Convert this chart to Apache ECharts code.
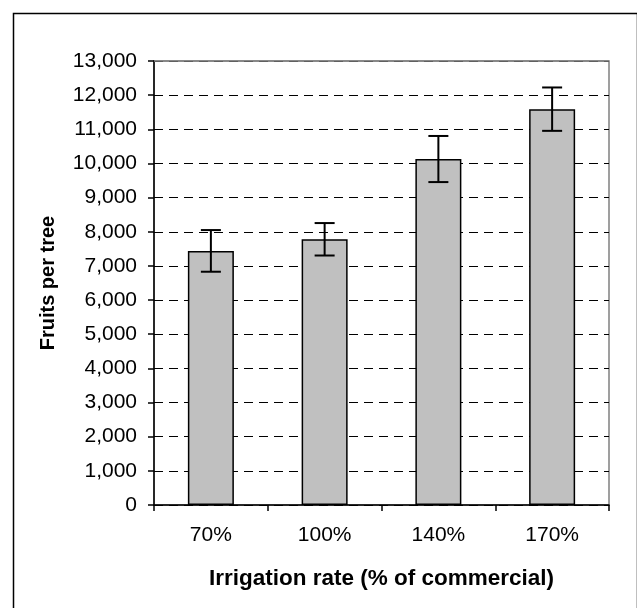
<!DOCTYPE html>
<html>
<head>
<meta charset="utf-8">
<script src="https://cdn.jsdelivr.net/npm/echarts@6/dist/echarts.min.js"></script>
<style>
html,body{margin:0;padding:0;background:#fff;}
#chart{width:637px;height:608px;}
</style>
</head>
<body>
<div id="chart"></div>
<script>
const categories = ['70%', '100%', '140%', '170%'];
const fruitsPerTree = [7440, 7780, 10130, 11590];
const errorValues = [610, 475, 675, 635];
const yTickMin = 0;
const yTickMax = 13000;
const yTickStep = 1000;

const FONT = 'Liberation Sans, Arial, sans-serif';
const chart = echarts.init(document.getElementById('chart'));

const errorData = categories.map((c, i) => [i, fruitsPerTree[i] - errorValues[i], fruitsPerTree[i] + errorValues[i]]);

chart.setOption({
  animation: false,
  backgroundColor: '#ffffff',
  grid: {
    left: 154, right: 28, top: 61, bottom: 103,
    show: true, borderColor: '#808080', borderWidth: 1.5, backgroundColor: 'transparent'
  },
  graphic: [{
    type: 'rect', left: 11, top: 11,
    shape: { width: 624, height: 620 },
    style: { fill: 'none', stroke: '#000', lineWidth: 1.5 },
    silent: true
  }],
  xAxis: {
    type: 'category',
    data: categories,
    name: 'Irrigation rate (% of commercial)',
    nameLocation: 'middle',
    nameGap: 62,
    nameTextStyle: { fontFamily: FONT, fontSize: 22.5, fontWeight: 'bold', color: '#000' },
    axisLine: { lineStyle: { color: '#000', width: 1.5 } },
    axisTick: { show: true, length: 6, inside: false, alignWithLabel: false, lineStyle: { color: '#000', width: 1.5 } },
    axisLabel: { fontFamily: FONT, fontSize: 21, color: '#000', margin: 20 },
    splitLine: { show: false }
  },
  yAxis: {
    type: 'value',
    min: yTickMin, max: yTickMax, interval: yTickStep,
    name: 'Fruits per tree',
    nameLocation: 'middle',
    nameGap: 96,
    nameRotate: 90,
    nameTextStyle: { fontFamily: FONT, fontSize: 20, fontWeight: 'bold', color: '#000' },
    axisLine: { show: true, lineStyle: { color: '#000', width: 1.5 } },
    axisTick: { show: true, length: 6, lineStyle: { color: '#000', width: 1.5 } },
    axisLabel: {
      fontFamily: FONT, fontSize: 21, color: '#000', margin: 17,
      formatter: v => v.toLocaleString('en-US')
    },
    splitLine: { show: true, lineStyle: { color: '#000', width: 1, type: [9, 6] } }
  },
  series: [{
    type: 'bar',
    data: fruitsPerTree,
    barWidth: 46,
    itemStyle: { color: '#C0C0C0', borderColor: '#000', borderWidth: 1.5 },
    markLine: {
      silent: true, symbol: 'none', label: { show: false },
      lineStyle: { color: '#808080', width: 1.5, type: 'solid' },
      data: [{ yAxis: yTickMax }]
    }
  }, {
    type: 'custom',
    data: errorData,
    z: 5,
    renderItem: function (params, api) {
      const x = api.value(0);
      const lo = api.coord([x, api.value(1)]);
      const hi = api.coord([x, api.value(2)]);
      const half = 10;
      const style = { stroke: '#000', lineWidth: 2 };
      return {
        type: 'group',
        children: [
          { type: 'line', shape: { x1: hi[0], y1: hi[1], x2: lo[0], y2: lo[1] }, style: style },
          { type: 'line', shape: { x1: hi[0] - half, y1: hi[1], x2: hi[0] + half, y2: hi[1] }, style: style },
          { type: 'line', shape: { x1: lo[0] - half, y1: lo[1], x2: lo[0] + half, y2: lo[1] }, style: style }
        ]
      };
    }
  }]
});
</script>
</body>
</html>
